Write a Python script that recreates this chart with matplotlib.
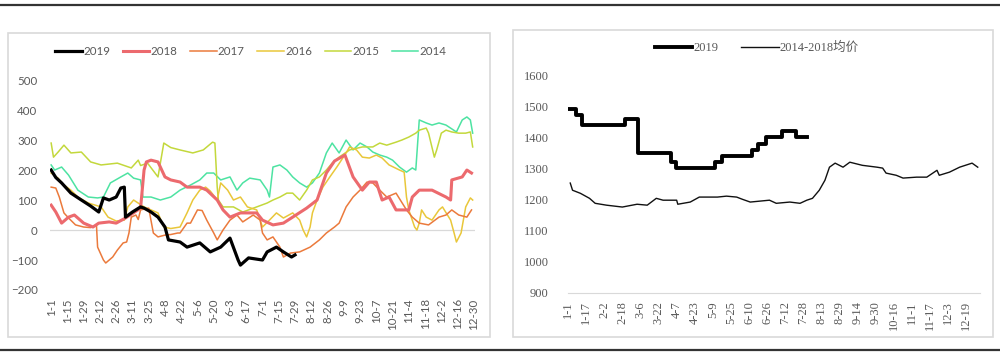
import matplotlib
matplotlib.use("Agg")
import matplotlib.pyplot as plt
from matplotlib.patches import Rectangle
from matplotlib.lines import Line2D

plt.rcParams["font.family"] = ["Lato", "Noto Sans CJK SC", "DejaVu Sans"]
SERIF = ["Liberation Serif", "Noto Sans CJK SC", "DejaVu Serif"]

# ---- left panel: spread by year (x = day of year) ----
left_ticks = ["1-1", "1-15", "1-29", "2-12", "2-26", "3-11", "3-25", "4-8", "4-22", "5-6",
              "5-20", "6-3", "6-17", "7-1", "7-15", "7-29", "8-12", "8-26", "9-9", "9-23",
              "10-7", "10-21", "11-4", "11-18", "12-2", "12-16", "12-30"]

d2019 = [0, 4, 9, 17, 26, 34, 41, 45, 50, 56, 60, 63, 64, 70, 77, 80, 86, 92, 98, 101,
         111, 117, 128, 137, 146, 154, 161, 163, 170, 182, 186, 194, 200, 207, 210]
v2019 = [200, 175, 157, 123, 100, 80, 60, 107, 100, 110, 140, 143, 43, 60, 77, 73, 60, 43, 10, -33,
         -40, -57, -43, -73, -57, -27, -100, -117, -93, -100, -73, -57, -73, -90, -83]

d2018 = [0, 4, 9, 15, 20, 28, 36, 41, 50, 56, 64, 70, 77, 80, 82, 86, 92, 98, 103, 111,
         117, 128, 134, 143, 148, 154, 163, 177, 182, 191, 200, 208, 220, 229, 237, 244, 253, 260,
         268, 274, 280, 285, 291, 297, 308, 311, 317, 328, 340, 344, 345, 354, 358, 362]
v2018 = [83, 60, 23, 43, 50, 23, 10, 23, 27, 23, 40, 55, 73, 200, 227, 233, 227, 177, 167, 160,
         143, 143, 133, 100, 67, 43, 57, 57, 33, 17, 23, 43, 73, 100, 190, 230, 250, 177,
         133, 160, 160, 100, 110, 67, 67, 110, 133, 133, 110, 100, 167, 177, 200, 190]

d2017 = [0, 4, 7, 11, 15, 21, 28, 34, 39, 40, 45, 47, 53, 57, 62, 65, 67, 69, 73, 75,
         77, 84, 88, 92, 98, 103, 109, 111, 117, 120, 126, 130, 134, 140, 143, 148, 154, 160, 165, 174,
         180, 182, 186, 191, 197, 200, 206, 214, 223, 231, 237, 244, 248, 254, 260, 266, 272, 277, 283, 289,
         297, 306, 311, 317, 325, 334, 340, 345, 351, 358, 362]
v2017 = [143, 140, 110, 57, 40, 17, 10, 8, 17, -57, -100, -110, -90, -67, -43, -40, -10, 43, 50, 35,
         67, 73, -10, -23, -17, -15, -10, -10, 23, 23, 67, 65, 33, -10, -33, 0, 33, 50, 27, 50,
         33, -10, -33, -23, -57, -90, -77, -73, -57, -33, -10, 10, 23, 77, 110, 133, 160, 157, 133, 110,
         123, 67, 43, 23, 17, 43, 50, 67, 50, 43, 67]

d2016 = [0, 6, 11, 17, 23, 32, 43, 49, 56, 63, 66, 71, 80, 92, 97, 103, 111, 117, 122, 128,
         133, 137, 143, 146, 152, 157, 163, 169, 177, 182, 188, 194, 200, 208, 214, 217, 220, 223, 225, 229,
         234, 240, 246, 254, 257, 263, 268, 274, 280, 285, 291, 300, 304, 306, 308, 313, 315, 317, 319, 323,
         328, 334, 337, 344, 347, 349, 353, 357, 361, 363]
v2016 = [190, 173, 150, 133, 110, 90, 77, 43, 30, 33, 77, 100, 77, 57, 10, 5, 10, 57, 100, 133,
         143, 130, 100, 157, 133, 100, 110, 77, 67, 10, 33, 57, 40, 57, 33, 0, -23, 10, 57, 100,
         143, 177, 210, 257, 277, 267, 243, 240, 250, 240, 217, 200, 193, 110, 67, 10, 0, 23, 67, 43,
         33, 67, 77, 33, -10, -40, -10, 77, 107, 100]

d2015 = [0, 2, 6, 11, 17, 26, 34, 43, 57, 69, 75, 77, 83, 92, 97, 103, 111, 122, 131, 139,
         141, 143, 144, 148, 157, 165, 177, 186, 191, 197, 203, 208, 214, 220, 225, 231, 237, 242, 248, 257,
         268, 277, 283, 289, 297, 302, 308, 314, 317, 323, 325, 330, 332, 336, 340, 345, 351, 357, 361, 363]
v2015 = [290, 243, 260, 283, 257, 260, 227, 217, 223, 207, 233, 215, 223, 177, 290, 275, 267, 257, 267, 293,
         290, 143, 100, 77, 77, 60, 77, 90, 100, 110, 123, 123, 100, 133, 167, 177, 200, 223, 243, 267,
         277, 277, 290, 283, 293, 300, 310, 323, 333, 340, 323, 243, 267, 323, 333, 327, 323, 323, 327, 277]

d2014 = [0, 3, 9, 15, 23, 32, 40, 45, 51, 60, 66, 71, 77, 79, 86, 94, 103, 111, 120, 128,
         134, 140, 146, 154, 160, 165, 171, 180, 186, 188, 191, 197, 203, 208, 214, 220, 225, 231, 237, 242,
         248, 254, 260, 266, 272, 277, 283, 289, 294, 300, 306, 311, 314, 317, 323, 328, 334, 340, 349, 354,
         358, 361, 363]
v2014 = [217, 200, 210, 183, 133, 110, 107, 110, 157, 177, 190, 173, 167, 110, 110, 100, 110, 133, 150, 167,
         190, 190, 167, 177, 133, 157, 173, 167, 133, 110, 210, 217, 200, 177, 157, 143, 157, 190, 257, 290,
         257, 300, 267, 290, 277, 260, 250, 243, 233, 210, 193, 207, 200, 367, 357, 350, 357, 350, 327, 367,
         377, 367, 323]

# ---- right panel: price 2019 vs 2014-2018 average ----
right_ticks = ["1-1", "1-17", "2-2", "2-18", "3-6", "3-22", "4-7", "4-23", "5-9", "5-25", "6-10",
               "6-26", "7-12", "7-28", "8-13", "8-29", "9-14", "9-30", "10-16", "11-1", "11-17",
               "12-3", "12-19"]

p2019_days = [0, 7, 12, 50, 62, 91, 95, 130, 136, 163, 168, 175, 189, 201, 211]
p2019 = [1490, 1470, 1440, 1460, 1350, 1320, 1300, 1320, 1340, 1360, 1380, 1400, 1420, 1400, 1400]

avg_days = [2, 4, 11, 19, 24, 34, 48, 61, 70, 78, 84, 96, 97, 108, 116, 132, 140, 149, 154, 161,
            178, 184, 196, 205, 211, 216, 222, 227, 231, 236, 243, 249, 260, 273, 278, 281, 290, 296,
            308, 317, 326, 328, 337, 346, 357, 362]
avg_vals = [1253, 1230, 1220, 1204, 1188, 1182, 1176, 1185, 1182, 1204, 1198, 1198, 1185, 1192, 1208,
            1208, 1211, 1208, 1201, 1192, 1198, 1188, 1192, 1188, 1198, 1204, 1230, 1262, 1304, 1317,
            1304, 1320, 1310, 1304, 1301, 1285, 1278, 1269, 1272, 1272, 1294, 1278, 1288, 1304, 1317, 1304]

TXT = "#595959"

fig = plt.figure(figsize=(10, 3.57), dpi=100)
fig.patch.set_facecolor("white")

# outer rules and panel boxes
fig.add_artist(Line2D([0, 1], [0.986, 0.986], color="#333333", lw=1.6, transform=fig.transFigure))
fig.add_artist(Line2D([0, 1], [0.02, 0.02], color="#333333", lw=1.6, transform=fig.transFigure))
fig.add_artist(Rectangle((0.008, 0.056), 0.482, 0.852, transform=fig.transFigure,
                         fill=False, ec="#D9D9D9", lw=1.2))
fig.add_artist(Rectangle((0.513, 0.056), 0.48, 0.86, transform=fig.transFigure,
                         fill=False, ec="#D9D9D9", lw=1.2))

# left chart
ax = fig.add_axes([0.05, 0.1877, 0.425, 0.588])
series = [
    ("2019", d2019, v2019, "#000000", 2.3),
    ("2018", d2018, v2018, "#EC6A6E", 2.2),
    ("2017", d2017, v2017, "#EB7A3C", 1.1),
    ("2016", d2016, v2016, "#E9C73A", 1.1),
    ("2015", d2015, v2015, "#C3D83C", 1.1),
    ("2014", d2014, v2014, "#4DE3A2", 1.1),
]
for name, d, v, c, lw in reversed(series):
    ax.plot(d, v, color=c, lw=lw, label=name, solid_joinstyle="round")
ax.axhline(0, color="#D9D9D9", lw=0.9, zorder=0)
ax.set_xlim(-1, 365)
ax.set_ylim(-200, 500)
ax.set_yticks(range(-200, 501, 100))
ax.set_xticks(range(0, 14 * len(left_ticks), 14))
ax.set_xticklabels(left_ticks, rotation=90)
ax.tick_params(length=0, labelsize=8.3, labelcolor=TXT)
ax.tick_params(axis="y", pad=9)
ax.tick_params(axis="x", pad=6)
for s in ax.spines.values():
    s.set_visible(False)
h, l = ax.get_legend_handles_labels()
fig.legend(h[::-1], l[::-1], loc="center", bbox_to_anchor=(0.251, 0.855), ncol=6, frameon=False,
           fontsize=8.3, labelcolor=TXT, handlelength=2.3, handletextpad=0.1, columnspacing=1.1)

# right chart
ax2 = fig.add_axes([0.568, 0.1793, 0.412, 0.6106])
ax2.plot(avg_days, avg_vals, color="#111111", lw=1.0, label="2014-2018均价")
ax2.step(p2019_days, p2019, where="post", color="#000000", lw=2.8, label="2019")
ax2.set_xlim(0, 364)
ax2.set_ylim(900, 1600)
ax2.set_yticks(range(900, 1601, 100))
ax2.set_xticks(range(0, 16 * len(right_ticks), 16))
ax2.set_xticklabels(right_ticks, rotation=90, family=SERIF)
for t in ax2.get_yticklabels():
    t.set_family(SERIF)
ax2.tick_params(length=0, labelsize=9, labelcolor=TXT)
ax2.tick_params(axis="y", pad=14)
ax2.tick_params(axis="x", pad=6)
for k, s in ax2.spines.items():
    s.set_visible(k == "bottom")
ax2.spines["bottom"].set_color("#D9D9D9")
h2, l2 = ax2.get_legend_handles_labels()
fig.legend(h2[::-1], l2[::-1], loc="center", bbox_to_anchor=(0.757, 0.866), ncol=2, frameon=False,
           prop={"family": SERIF, "size": 9}, labelcolor=TXT, handlelength=3.0, handletextpad=0.1,
           columnspacing=1.8)

fig.savefig("out.png", dpi=100, facecolor="white")
